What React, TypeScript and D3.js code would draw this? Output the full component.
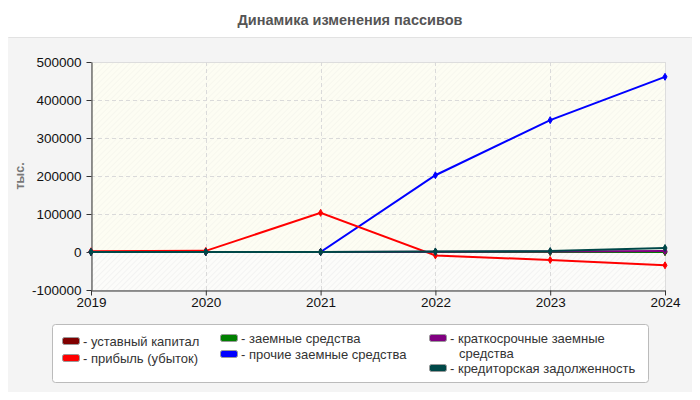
import { useEffect, useRef } from "react";
import * as d3 from "d3";

const years = [2019, 2020, 2021, 2022, 2023, 2024];
const yTicks = [-100000, 0, 100000, 200000, 300000, 400000, 500000];

const ustavCapital = [0, 0, 0, 0, 0, 0];
const profit = [2000, 3000, 103000, -9000, -21000, -35000];
const borrowed = [0, 0, 0, 0, 0, 0];
const otherBorrowed = [0, 0, 0, 202000, 347000, 461000];
const shortTermBorrowed = [0, 0, 0, 500, 1500, 2500];
const payables = [0, 0, 0, 1500, 2500, 10500];

const seriesNames = [
  "уставный капитал",
  "прибыль (убыток)",
  "заемные средства",
  "прочие заемные средства",
  "краткосрочные заемные средства",
  "кредиторская задолженность",
];
const seriesColors = ["#800000", "#ff0000", "#008000", "#0000ff", "#800080", "#004848"];
const seriesValues = [ustavCapital, profit, borrowed, otherBorrowed, shortTermBorrowed, payables];
// drawing order: later ones sit on top
const drawOrder = [3, 1, 0, 2, 4, 5];

export default function App() {
  const svgRef = useRef<SVGSVGElement>(null);

  useEffect(() => {
    if (!svgRef.current) return;
    const width = 700;
    const height = 400;
    const margin = { top: 62, right: 35, bottom: 110, left: 91 };
    const font = "'Liberation Sans', Arial, sans-serif";

    const svg = d3.select(svgRef.current);
    svg.selectAll("*").remove();

    const defs = svg.append("defs");
    const hatch = defs.append("pattern")
      .attr("id", "hatch")
      .attr("patternUnits", "userSpaceOnUse")
      .attr("width", 4)
      .attr("height", 4)
      .attr("patternTransform", "rotate(45)");
    hatch.append("rect").attr("width", 4).attr("height", 4).attr("fill", "#fcfcfa");
    hatch.append("line")
      .attr("x1", 0).attr("y1", 0).attr("x2", 0).attr("y2", 4)
      .attr("stroke", "#ebebeb").attr("stroke-width", 1);

    const hatchTop = defs.append("pattern")
      .attr("id", "hatchTop")
      .attr("patternUnits", "userSpaceOnUse")
      .attr("width", 4)
      .attr("height", 4)
      .attr("patternTransform", "rotate(45)");
    hatchTop.append("rect").attr("width", 4).attr("height", 4).attr("fill", "#fdfdf3");
    hatchTop.append("line")
      .attr("x1", 0).attr("y1", 0).attr("x2", 0).attr("y2", 4)
      .attr("stroke", "#f2f2ea").attr("stroke-width", 1);

    // Title
    svg.append("text")
      .attr("x", width / 2)
      .attr("y", 25)
      .attr("text-anchor", "middle")
      .attr("fill", "#555")
      .attr("font-family", font)
      .attr("font-size", "14.5px")
      .attr("font-weight", "bold")
      .text("Динамика изменения пассивов");

    // Outer panel
    svg.append("rect")
      .attr("x", 1.5)
      .attr("y", 37.5)
      .attr("width", 696)
      .attr("height", 370)
      .attr("rx", 7)
      .attr("fill", "#f4f4f4")
      .attr("stroke", "#e2e2e2");

    const x = d3.scaleLinear()
      .domain([years[0], years[years.length - 1]])
      .range([margin.left, width - margin.right]);
    const y = d3.scaleLinear()
      .domain([-100000, 500000])
      .range([height - margin.bottom, margin.top]);

    const plotW = x.range()[1] - x.range()[0];

    // Plot background
    svg.append("rect")
      .attr("x", margin.left)
      .attr("y", margin.top)
      .attr("width", plotW)
      .attr("height", y(0) - margin.top)
      .attr("fill", "url(#hatchTop)");
    svg.append("rect")
      .attr("x", margin.left)
      .attr("y", y(0))
      .attr("width", plotW)
      .attr("height", y(-100000) - y(0))
      .attr("fill", "url(#hatch)");
    svg.append("rect")
      .attr("x", margin.left + 0.5)
      .attr("y", margin.top + 0.5)
      .attr("width", plotW)
      .attr("height", y(-100000) - margin.top)
      .attr("fill", "none")
      .attr("stroke", "#dddddd");

    // Grid
    const grid = svg.append("g")
      .attr("stroke", "#dadada")
      .attr("stroke-dasharray", "4,3");
    grid.selectAll("line.h")
      .data(yTicks.filter(t => t !== -100000 && t !== 500000))
      .join("line")
      .attr("class", "h")
      .attr("x1", margin.left)
      .attr("x2", width - margin.right)
      .attr("y1", d => Math.round(y(d)) + 0.5)
      .attr("y2", d => Math.round(y(d)) + 0.5);
    grid.selectAll("line.v")
      .data(years.slice(1, -1))
      .join("line")
      .attr("class", "v")
      .attr("x1", d => Math.round(x(d)) + 0.5)
      .attr("x2", d => Math.round(x(d)) + 0.5)
      .attr("y1", margin.top)
      .attr("y2", height - margin.bottom);

    // Y Axis
    svg.append("g")
      .attr("transform", `translate(${margin.left + 0.5},0)`)
      .call(d3.axisLeft(y).tickValues(yTicks).tickSize(5).tickSizeOuter(0).tickFormat(d => `${d}`))
      .call(g => g.select(".domain").attr("stroke", "#333"))
      .call(g => g.selectAll(".tick line").attr("stroke", "#333"))
      .call(g => g.selectAll("text")
        .attr("fill", "#111")
        .attr("font-family", font)
        .attr("font-size", "13.5px")
        .attr("x", -10));

    // X Axis
    svg.append("g")
      .attr("transform", `translate(0,${height - margin.bottom + 0.5})`)
      .call(d3.axisBottom(x).tickValues(years).tickSize(5).tickSizeOuter(0).tickFormat(d => `${d}`))
      .call(g => g.select(".domain").attr("stroke", "#333"))
      .call(g => g.selectAll(".tick line").attr("stroke", "#333"))
      .call(g => g.selectAll("text")
        .attr("fill", "#111")
        .attr("font-family", font)
        .attr("font-size", "13.5px")
        .attr("y", 7));

    // Y Axis Title
    svg.append("text")
      .attr("transform", "rotate(-90)")
      .attr("x", -176)
      .attr("y", 24)
      .attr("text-anchor", "middle")
      .attr("fill", "#777")
      .attr("font-family", font)
      .attr("font-size", "12.5px")
      .attr("font-weight", "bold")
      .text("тыс.");

    // Lines
    const line = d3.line<number>()
      .x((_, i) => x(years[i]))
      .y(d => y(d));

    drawOrder.forEach(si => {
      const vals = seriesValues[si];
      const color = seriesColors[si];
      svg.append("path")
        .datum(vals)
        .attr("d", line)
        .attr("fill", "none")
        .attr("stroke", color)
        .attr("stroke-width", 2);
      svg.append("g")
        .selectAll("path")
        .data(vals)
        .join("path")
        .attr("transform", (d, i) => `translate(${x(years[i])},${y(d)})`)
        .attr("d", d3.symbol(d3.symbolDiamond, 14))
        .attr("fill", color)
        .attr("stroke", color);
    });

    // Legend
    const legend = svg.append("g");
    legend.append("rect")
      .attr("x", 52.5)
      .attr("y", 324.5)
      .attr("width", 596)
      .attr("height", 58)
      .attr("rx", 3)
      .attr("fill", "#ffffff")
      .attr("stroke", "#bbbbbb");

    const legendItems = [
      { s: 0, x: 62, y: 341, lines: ["- уставный капитал"] },
      { s: 1, x: 62, y: 358, lines: ["- прибыль (убыток)"] },
      { s: 2, x: 220, y: 338, lines: ["- заемные средства"] },
      { s: 3, x: 220, y: 354, lines: ["- прочие заемные средства"] },
      { s: 4, x: 429, y: 338, lines: ["- краткосрочные заемные", "средства"] },
      { s: 5, x: 429, y: 368, lines: ["- кредиторская задолженность"] },
    ];

    legendItems.forEach(it => {
      legend.append("rect")
        .attr("x", it.x + 0.5)
        .attr("y", it.y - 3.5)
        .attr("width", 17)
        .attr("height", 7)
        .attr("rx", 2)
        .attr("fill", seriesColors[it.s])
        .attr("stroke", "#999")
        .attr("stroke-width", 1);
      const t = legend.append("text")
        .attr("font-family", font)
        .attr("font-size", "13px")
        .attr("fill", "#333");
      it.lines.forEach((ln, k) => {
        t.append("tspan")
          .attr("x", it.x + 21 + (k > 0 ? 9 : 0))
          .attr("y", it.y + 5 + k * 15)
          .text(ln);
      });
    });
  }, []);

  return (
    <div style={{ width: 700, height: 400, margin: -8 }}>
      <svg ref={svgRef} width={700} height={400} style={{ display: "block" }} />
    </div>
  );
}
